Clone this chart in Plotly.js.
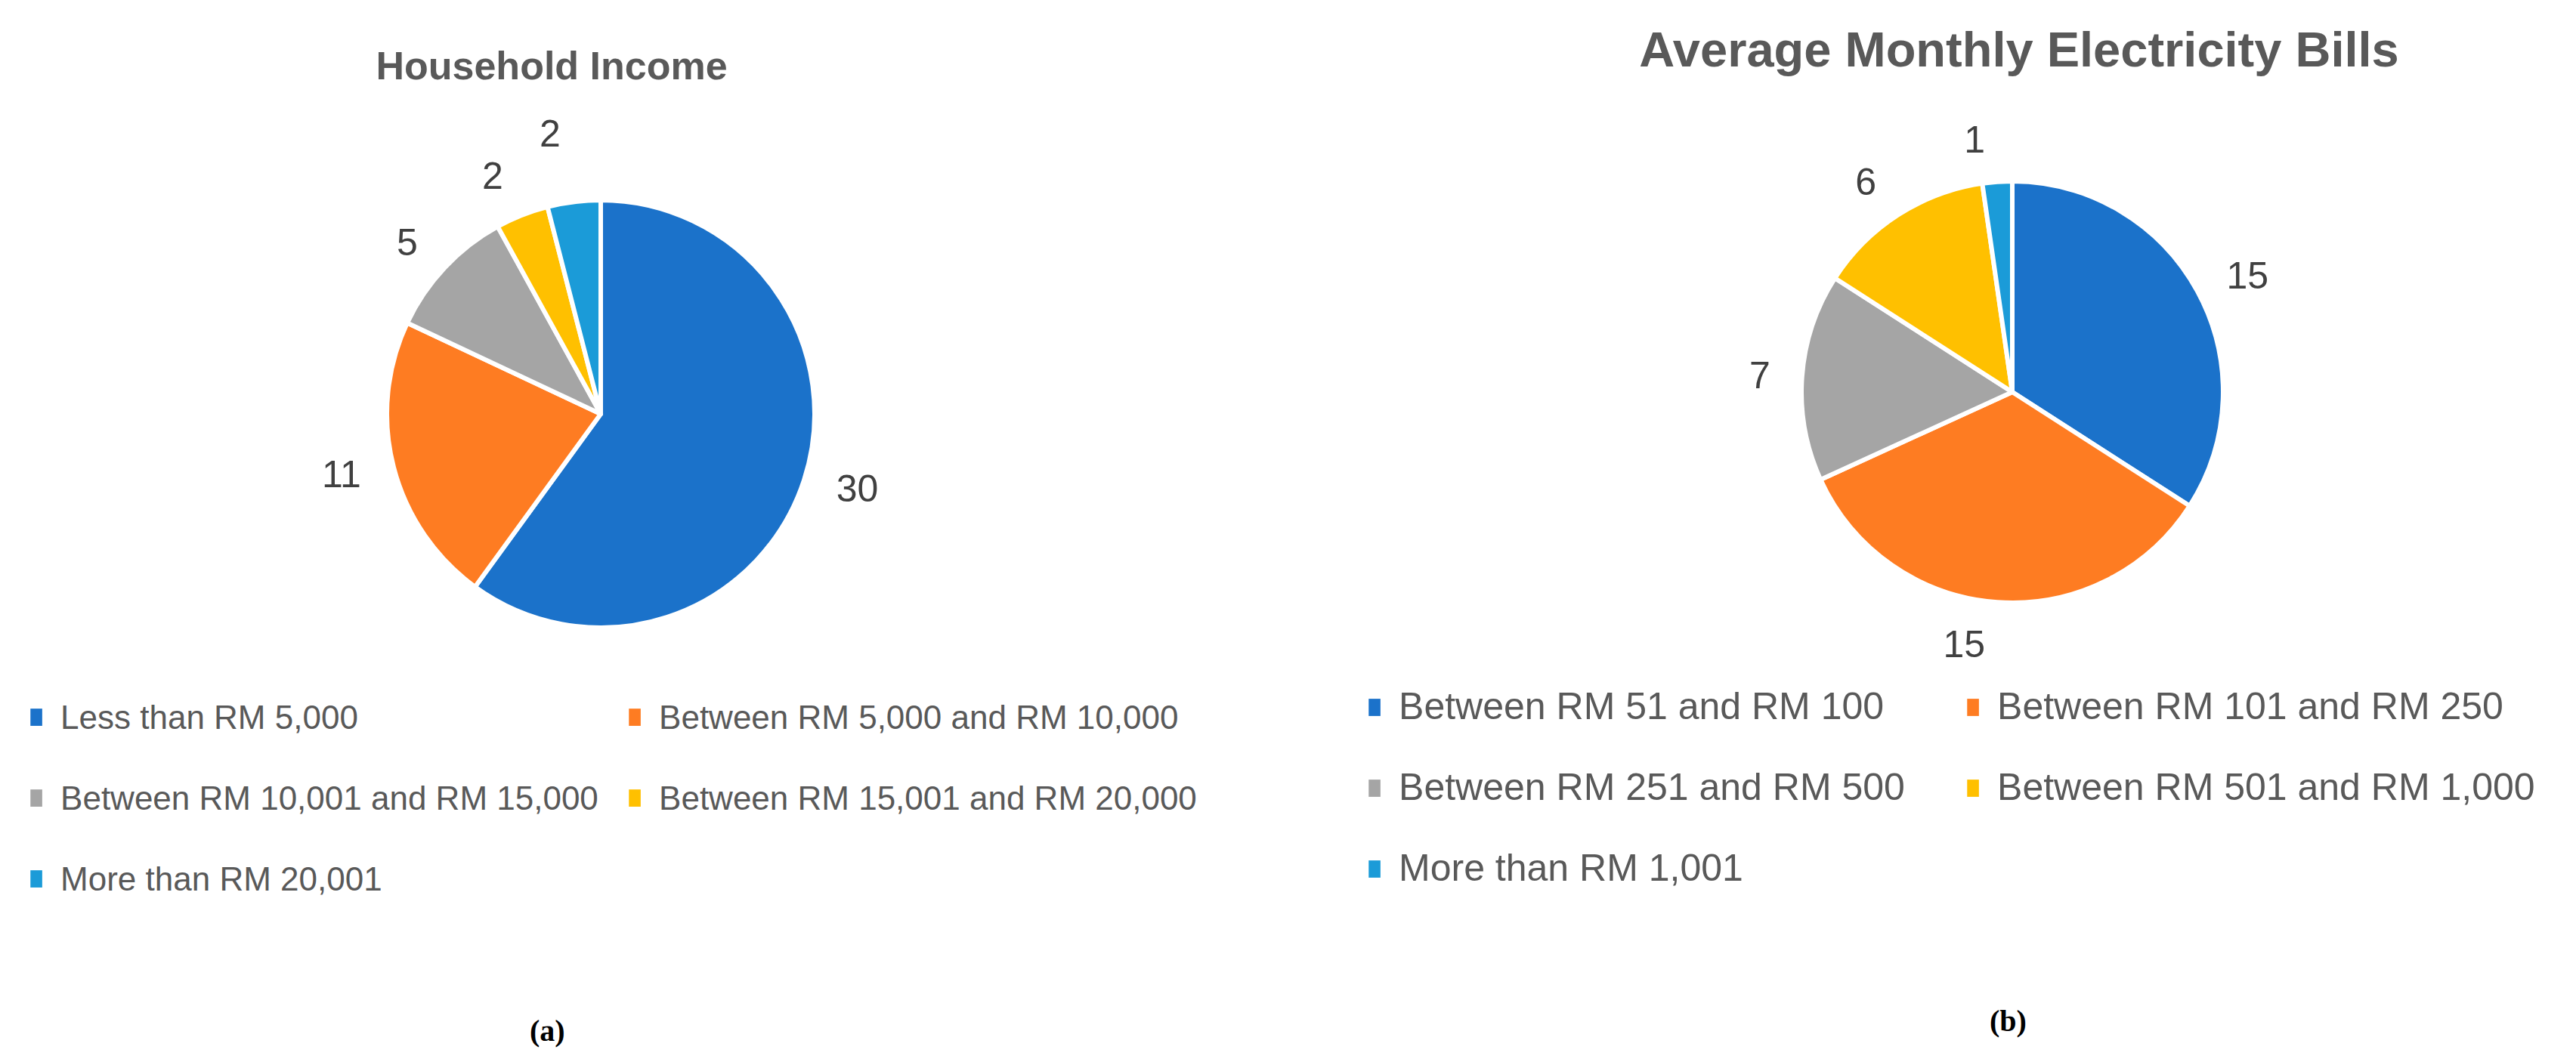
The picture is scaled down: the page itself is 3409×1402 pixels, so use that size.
<!DOCTYPE html>
<html>
<head>
<meta charset="utf-8">
<script src="https://cdn.plot.ly/plotly-3.0.1.min.js"></script>
<style>
  html, body { margin: 0; padding: 0; background: #ffffff; }
  #wrap { position: relative; width: 3409px; height: 1402px; overflow: hidden; }
  #chart-a { position: absolute; left: 0; top: 0; width: 1799px; height: 1402px; }
  #chart-b { position: absolute; left: 1780px; top: 0; width: 1629px; height: 1402px; }
  /* the original has no leader lines and plain block-shaped legend keys */
  path.textline { display: none; }
  path.legendpie { stroke-width: 0 !important; transform: translate(20px, 0px) scale(1.3, 1.9); }
</style>
</head>
<body>
<div id="wrap">
  <div id="chart-a"></div>
  <div id="chart-b"></div>
</div>
<script>
// Data
const incomeCats = [
  'Less than RM 5,000',
  'Between RM 5,000 and RM 10,000',
  'Between RM 10,001 and RM 15,000',
  'Between RM 15,001 and RM 20,000',
  'More than RM 20,001',
];
const incomeCounts = [30, 11, 5, 2, 2];

const billCats = [
  'Between RM 51 and RM 100',
  'Between RM 101 and RM 250',
  'Between RM 251 and RM 500',
  'Between RM 501 and RM 1,000',
  'More than RM 1,001',
];
const billCounts = [15, 15, 7, 6, 1];

const SLICE_COLORS = ['#1b72ca', '#fe7c22', '#a5a5a5', '#ffc000', '#1b9bd8'];

const FONT = 'Liberation Sans, Arial, sans-serif';

const CONFIG = { displayModeBar: false, staticPlot: true };

// legend rows: the legend font sets the row pitch (two lines), the span sets the glyph size
const legendLabels = (cats, size) =>
  cats.map((c) => '<span style="font-size:' + size + 'px">' + c + '</span><br> ');

// coloured pie, no text
function pieTrace(cats, counts, domain, legendSize) {
  return {
    type: 'pie',
    labels: legendLabels(cats, legendSize),
    values: counts,
    sort: false,
    direction: 'clockwise',
    rotation: 0,
    domain: domain,
    textinfo: 'none',
    marker: { colors: SLICE_COLORS, line: { color: '#ffffff', width: 6 } },
    hoverinfo: 'skip',
  };
}

// invisible ring a little wider than the pie, only carries the value labels
function labelTrace(cats, counts, domain, labelSize) {
  return {
    type: 'pie',
    labels: legendLabels(cats, 10),
    values: counts,
    sort: false,
    direction: 'clockwise',
    rotation: 0,
    domain: domain,
    showlegend: false,
    textinfo: 'value',
    textposition: 'outside',
    outsidetextfont: { family: FONT, size: labelSize, color: '#404040' },
    marker: { colors: counts.map(() => 'rgba(0,0,0,0)'), line: { width: 0 } },
    hoverinfo: 'skip',
  };
}

function baseLayout(title, titleX, titleY, titleSize, caption, capX, capY, legend) {
  return {
    paper_bgcolor: '#ffffff',
    plot_bgcolor: '#ffffff',
    margin: { t: 0, r: 0, b: 0, l: 0 },
    font: { family: FONT, color: '#595959' },
    title: {
      text: '<b>' + title + '</b>',
      x: titleX, xanchor: 'center',
      y: titleY, yanchor: 'middle', yref: 'container',
      font: { family: FONT, size: titleSize, color: '#595959' },
    },
    showlegend: true,
    legend: legend,
    annotations: [
      {
        text: '<b>' + caption + '</b>',
        x: capX, y: capY, xref: 'paper', yref: 'paper',
        xanchor: 'center', yanchor: 'middle', showarrow: false,
        font: { family: 'Liberation Serif, Times New Roman, serif', size: 40, color: '#000000' },
      },
    ],
  };
}

function legendBox(x, y) {
  return {
    orientation: 'h',
    x: x, xanchor: 'left',
    y: y, yanchor: 'top',
    itemwidth: 42,
    entrywidth: 735, entrywidthmode: 'pixels',
    valign: 'top',
    font: { family: FONT, size: 40, color: '#595959' },
    bgcolor: 'rgba(0,0,0,0)',
  };
}

// =============================================================================
// (a) Household Income
// =============================================================================

Plotly.newPlot(
  'chart-a',
  [
    pieTrace(incomeCats, incomeCounts, { x: [0.2846, 0.5992], y: [0.4073, 0.8110] }, 44),
    labelTrace(incomeCats, incomeCounts, { x: [0.2679, 0.6159], y: [0.3859, 0.8324] }, 50),
  ],
  baseLayout('Household Income', 0.4058, 1 - 87 / 1402, 52, '(a)', 0.4025, 0.0264, legendBox(0.0156, 0.3459)),
  CONFIG
);

// =============================================================================
// (b) Average Monthly Electricity Bills
// =============================================================================

Plotly.newPlot(
  'chart-b',
  [
    pieTrace(billCats, billCounts, { x: [0.3708, 0.7133], y: [0.4308, 0.8288] }, 50),
    labelTrace(billCats, billCounts, { x: [0.3536, 0.7305], y: [0.4108, 0.8488] }, 50),
  ],
  baseLayout('Average Monthly Electricity Bills', 0.5476, 1 - 65 / 1402, 65, '(b)', 0.5384, 0.0357, legendBox(0.0117, 0.3552)),
  CONFIG
);
</script>
</body>
</html>
